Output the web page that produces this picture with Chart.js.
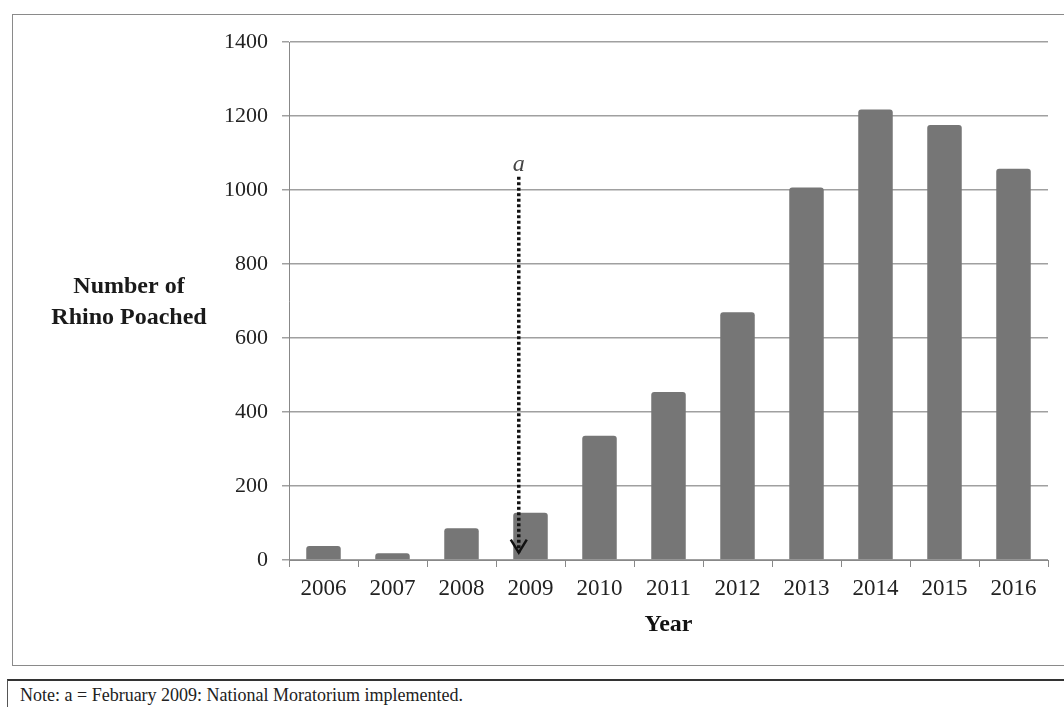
<!DOCTYPE html>
<html>
<head>
<meta charset="utf-8">
<script src="https://cdn.jsdelivr.net/npm/chart.js@4"></script>
<style>
  body { margin: 0; background: #fff; width: 1064px; height: 707px; overflow: hidden; position: relative; }
  #box { position: absolute; left: 12px; top: 14px; width: 1060px; height: 650px; border: 1px solid #8a8a8a; }
  #box canvas { position: absolute; left: 0; top: 0; }
  #note { position: absolute; left: 7px; top: 679px; width: 1070px; height: 40px; border-top: 2px solid #333; border-left: 1px solid #555;
          font-family: "Liberation Serif", "Times New Roman", serif; font-size: 18px; color: #222; padding-left: 12px; line-height: 28px; box-sizing: border-box; }
</style>
</head>
<body>
<div id="box"><canvas id="myChart" width="1036" height="650"></canvas></div>
<div id="note">Note: a = February 2009: National Moratorium implemented.</div>
<script>
const years = ["2006", "2007", "2008", "2009", "2010", "2011", "2012", "2013", "2014", "2015", "2016"];
const poached = [38, 18, 86, 128, 336, 454, 670, 1007, 1218, 1176, 1058];
const yTicks = [0, 200, 400, 600, 800, 1000, 1200, 1400];

const serif = '"Liberation Serif", "Times New Roman", serif';

// y title (horizontal) and the dotted "a" arrow
const extras = {
  id: "extras",
  afterDraw(chart) {
    const ctx = chart.ctx;
    const xs = chart.scales.x;
    const ys = chart.scales.y;
    ctx.save();
    ctx.fillStyle = "#1a1a1a";
    ctx.font = "bold 24px " + serif;
    ctx.textAlign = "center";
    ctx.textBaseline = "middle";
    ctx.fillText("Number of", 116, 272);
    ctx.fillText("Rhino Poached", 116, 303);

    // arrow for 2009 moratorium
    const step = xs.getPixelForValue(1) - xs.getPixelForValue(0);
    const ax = xs.getPixelForValue(3) - 0.17 * step;
    const top = ys.getPixelForValue(1036);
    const bot = ys.getPixelForValue(20);
    ctx.strokeStyle = "#111";
    ctx.lineWidth = 3.5;
    ctx.setLineDash([3, 2.5]);
    ctx.beginPath();
    ctx.moveTo(ax, top);
    ctx.lineTo(ax, bot);
    ctx.stroke();
    ctx.setLineDash([]);
    ctx.lineWidth = 2.5;
    ctx.beginPath();
    ctx.moveTo(ax - 8, bot - 13);
    ctx.lineTo(ax, bot);
    ctx.lineTo(ax + 8, bot - 13);
    ctx.stroke();
    ctx.font = "italic 24px " + serif;
    ctx.fillStyle = "#444";
    ctx.fillText("a", ax, top - 12);
    ctx.restore();
  },
};

new Chart(document.getElementById("myChart").getContext("2d"), {
  type: "bar",
  data: {
    labels: years,
    datasets: [
      {
        label: "Number of Rhino Poached",
        data: poached,
        backgroundColor: "#767676",
        borderWidth: 0,
        borderRadius: { topLeft: 3, topRight: 3 },
        borderSkipped: "bottom",
        categoryPercentage: 1,
        barPercentage: 0.5,
      },
    ],
  },
  options: {
    responsive: false,
    animation: false,
    layout: { padding: { top: 25, right: 1, left: 0, bottom: 22 } },
    plugins: { legend: { display: false }, tooltip: { enabled: false } },
    scales: {
      x: {
        afterFit: (s) => { s.height = 83; },
        grid: { display: true, drawOnChartArea: false, tickLength: 7, color: "#888", offset: true },
        border: { color: "#888" },
        ticks: { color: "#222", font: { family: serif, size: 23 }, padding: 8 },
        title: { display: true, text: "Year", color: "#111", font: { family: serif, size: 24, weight: "bold" }, padding: { top: 2 } },
      },
      y: {
        min: 0,
        max: 1400,
        afterFit: (s) => { s.width = 276; },
        afterBuildTicks: (s) => { s.ticks = yTicks.map((v) => ({ value: v })); },
        grid: { color: "#a0a0a0", lineWidth: 1.5, tickLength: 7 },
        border: { color: "#888" },
        ticks: { color: "#222", font: { family: serif, size: 22 }, padding: 14, callback: (v) => String(v) },
      },
    },
  },
  plugins: [extras],
});
</script>
</body>
</html>
